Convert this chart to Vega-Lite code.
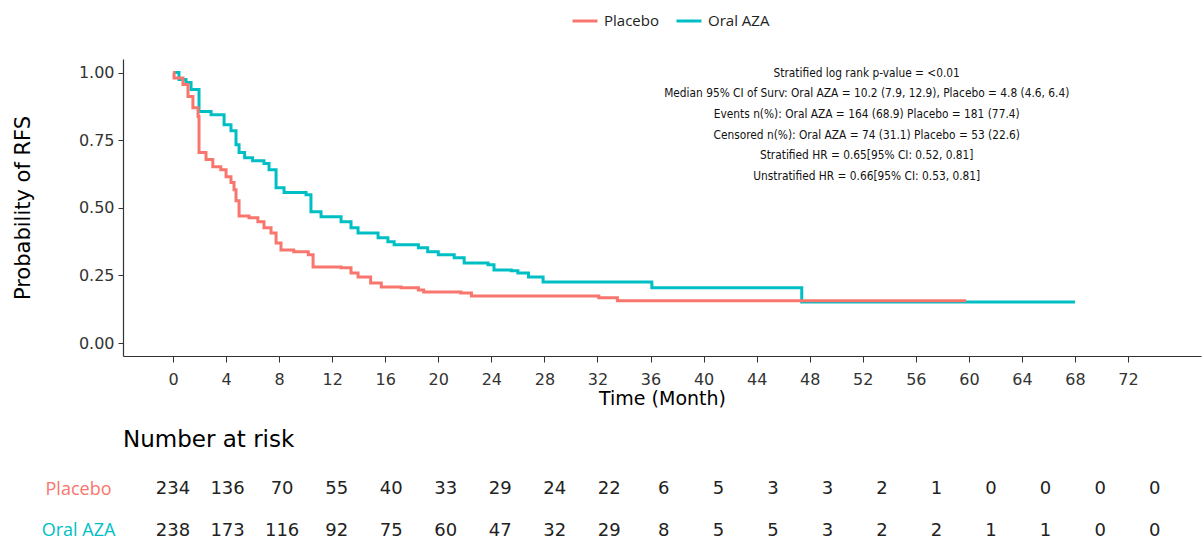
{
  "$schema": "https://vega.github.io/schema/vega-lite/v6.json",
  "padding": {"left": 12, "top": 7, "right": 3, "bottom": 0},
  "background": "white",
  "config": {"view": {"stroke": null}, "font": "DejaVu Sans", "axis": {"grid": false}},
  "datasets": {
    "km": [
      {"group": "Oral AZA", "time": 0, "surv": 1.0},
      {"group": "Oral AZA", "time": 0.45, "surv": 0.974},
      {"group": "Oral AZA", "time": 0.98, "surv": 0.963},
      {"group": "Oral AZA", "time": 1.36, "surv": 0.937},
      {"group": "Oral AZA", "time": 1.96, "surv": 0.856},
      {"group": "Oral AZA", "time": 2.87, "surv": 0.844},
      {"group": "Oral AZA", "time": 3.85, "surv": 0.807},
      {"group": "Oral AZA", "time": 4.37, "surv": 0.785},
      {"group": "Oral AZA", "time": 4.75, "surv": 0.733},
      {"group": "Oral AZA", "time": 4.98, "surv": 0.704},
      {"group": "Oral AZA", "time": 5.4, "surv": 0.685},
      {"group": "Oral AZA", "time": 6.0, "surv": 0.674},
      {"group": "Oral AZA", "time": 6.86, "surv": 0.664},
      {"group": "Oral AZA", "time": 7.24, "surv": 0.641},
      {"group": "Oral AZA", "time": 7.77, "surv": 0.574},
      {"group": "Oral AZA", "time": 8.37, "surv": 0.556},
      {"group": "Oral AZA", "time": 10.03, "surv": 0.548},
      {"group": "Oral AZA", "time": 10.4, "surv": 0.485},
      {"group": "Oral AZA", "time": 11.16, "surv": 0.467},
      {"group": "Oral AZA", "time": 12.67, "surv": 0.448},
      {"group": "Oral AZA", "time": 13.42, "surv": 0.426},
      {"group": "Oral AZA", "time": 13.95, "surv": 0.407},
      {"group": "Oral AZA", "time": 15.46, "surv": 0.389},
      {"group": "Oral AZA", "time": 16.2, "surv": 0.374},
      {"group": "Oral AZA", "time": 16.67, "surv": 0.363},
      {"group": "Oral AZA", "time": 18.5, "surv": 0.352},
      {"group": "Oral AZA", "time": 19.2, "surv": 0.337},
      {"group": "Oral AZA", "time": 20.0, "surv": 0.326},
      {"group": "Oral AZA", "time": 21.2, "surv": 0.315},
      {"group": "Oral AZA", "time": 21.95, "surv": 0.296},
      {"group": "Oral AZA", "time": 23.75, "surv": 0.289},
      {"group": "Oral AZA", "time": 24.2, "surv": 0.27},
      {"group": "Oral AZA", "time": 25.5, "surv": 0.267},
      {"group": "Oral AZA", "time": 26.0, "surv": 0.259},
      {"group": "Oral AZA", "time": 26.8, "surv": 0.244},
      {"group": "Oral AZA", "time": 27.9, "surv": 0.226},
      {"group": "Oral AZA", "time": 36.1, "surv": 0.204},
      {"group": "Oral AZA", "time": 47.4, "surv": 0.152},
      {"group": "Oral AZA", "time": 68.0, "surv": 0.152},
      {"group": "Placebo", "time": 0, "surv": 1.0},
      {"group": "Placebo", "time": 0.08, "surv": 0.98},
      {"group": "Placebo", "time": 0.75, "surv": 0.956},
      {"group": "Placebo", "time": 1.13, "surv": 0.911},
      {"group": "Placebo", "time": 1.5, "surv": 0.87},
      {"group": "Placebo", "time": 1.89, "surv": 0.837},
      {"group": "Placebo", "time": 1.96, "surv": 0.704},
      {"group": "Placebo", "time": 2.49, "surv": 0.678},
      {"group": "Placebo", "time": 3.0, "surv": 0.652},
      {"group": "Placebo", "time": 3.6, "surv": 0.641},
      {"group": "Placebo", "time": 4.0, "surv": 0.615},
      {"group": "Placebo", "time": 4.37, "surv": 0.593},
      {"group": "Placebo", "time": 4.6, "surv": 0.567},
      {"group": "Placebo", "time": 4.75, "surv": 0.526},
      {"group": "Placebo", "time": 4.98, "surv": 0.47},
      {"group": "Placebo", "time": 5.73, "surv": 0.463},
      {"group": "Placebo", "time": 6.4, "surv": 0.448},
      {"group": "Placebo", "time": 6.86, "surv": 0.426},
      {"group": "Placebo", "time": 7.39, "surv": 0.407},
      {"group": "Placebo", "time": 7.77, "surv": 0.37},
      {"group": "Placebo", "time": 8.14, "surv": 0.344},
      {"group": "Placebo", "time": 9.1, "surv": 0.337},
      {"group": "Placebo", "time": 10.2, "surv": 0.326},
      {"group": "Placebo", "time": 10.56, "surv": 0.281},
      {"group": "Placebo", "time": 12.67, "surv": 0.278},
      {"group": "Placebo", "time": 13.42, "surv": 0.259},
      {"group": "Placebo", "time": 13.95, "surv": 0.244},
      {"group": "Placebo", "time": 14.9, "surv": 0.222},
      {"group": "Placebo", "time": 15.7, "surv": 0.207},
      {"group": "Placebo", "time": 17.2, "surv": 0.204},
      {"group": "Placebo", "time": 18.5, "surv": 0.196},
      {"group": "Placebo", "time": 18.9, "surv": 0.189},
      {"group": "Placebo", "time": 21.7, "surv": 0.185},
      {"group": "Placebo", "time": 22.5, "surv": 0.174},
      {"group": "Placebo", "time": 32.1, "surv": 0.167},
      {"group": "Placebo", "time": 33.5, "surv": 0.156},
      {"group": "Placebo", "time": 59.8, "surv": 0.156}
    ],
    "risk": [
      {"group": "Placebo", "time": 0, "n": 234},
      {"group": "Placebo", "time": 4, "n": 136},
      {"group": "Placebo", "time": 8, "n": 70},
      {"group": "Placebo", "time": 12, "n": 55},
      {"group": "Placebo", "time": 16, "n": 40},
      {"group": "Placebo", "time": 20, "n": 33},
      {"group": "Placebo", "time": 24, "n": 29},
      {"group": "Placebo", "time": 28, "n": 24},
      {"group": "Placebo", "time": 32, "n": 22},
      {"group": "Placebo", "time": 36, "n": 6},
      {"group": "Placebo", "time": 40, "n": 5},
      {"group": "Placebo", "time": 44, "n": 3},
      {"group": "Placebo", "time": 48, "n": 3},
      {"group": "Placebo", "time": 52, "n": 2},
      {"group": "Placebo", "time": 56, "n": 1},
      {"group": "Placebo", "time": 60, "n": 0},
      {"group": "Placebo", "time": 64, "n": 0},
      {"group": "Placebo", "time": 68, "n": 0},
      {"group": "Placebo", "time": 72, "n": 0},
      {"group": "Oral AZA", "time": 0, "n": 238},
      {"group": "Oral AZA", "time": 4, "n": 173},
      {"group": "Oral AZA", "time": 8, "n": 116},
      {"group": "Oral AZA", "time": 12, "n": 92},
      {"group": "Oral AZA", "time": 16, "n": 75},
      {"group": "Oral AZA", "time": 20, "n": 60},
      {"group": "Oral AZA", "time": 24, "n": 47},
      {"group": "Oral AZA", "time": 28, "n": 32},
      {"group": "Oral AZA", "time": 32, "n": 29},
      {"group": "Oral AZA", "time": 36, "n": 8},
      {"group": "Oral AZA", "time": 40, "n": 5},
      {"group": "Oral AZA", "time": 44, "n": 5},
      {"group": "Oral AZA", "time": 48, "n": 3},
      {"group": "Oral AZA", "time": 52, "n": 2},
      {"group": "Oral AZA", "time": 56, "n": 2},
      {"group": "Oral AZA", "time": 60, "n": 1},
      {"group": "Oral AZA", "time": 64, "n": 1},
      {"group": "Oral AZA", "time": 68, "n": 0},
      {"group": "Oral AZA", "time": 72, "n": 0}
    ]
  },
  "vconcat": [
    {
      "width": 1078,
      "height": 297,
      "layer": [
        {
          "data": {"name": "km"},
          "mark": {"type": "line", "interpolate": "step-after", "strokeWidth": 3},
          "encoding": {
            "x": {
              "field": "time", "type": "quantitative",
              "scale": {"domain": [-3.77, 77.5], "nice": false, "zero": false},
              "axis": {
                "title": "Time (Month)",
                "values": [0, 4, 8, 12, 16, 20, 24, 28, 32, 36, 40, 44, 48, 52, 56, 60, 64, 68, 72],
                "format": "d",
                "labelFontSize": 16, "labelColor": "#333", "labelPadding": 9,
                "tickSize": 6, "tickColor": "#333",
                "domainColor": "#333", "domainWidth": 1.2,
                "titleFontSize": 19, "titleFontWeight": "normal", "titleColor": "#000", "titlePadding": 2
              }
            },
            "y": {
              "field": "surv", "type": "quantitative",
              "scale": {"domain": [-0.048, 1.05], "nice": false, "zero": false},
              "axis": {
                "title": "Probability of RFS",
                "values": [0, 0.25, 0.5, 0.75, 1],
                "format": ".2f",
                "labelFontSize": 16, "labelColor": "#333", "labelPadding": 4,
                "tickSize": 5, "tickColor": "#333",
                "domainColor": "#333", "domainWidth": 1.2,
                "titleFontSize": 21, "titleFontWeight": "normal", "titleColor": "#000", "titlePadding": 45
              }
            },
            "color": {
              "field": "group", "type": "nominal",
              "scale": {"domain": ["Placebo", "Oral AZA"], "range": ["#F8766D", "#00BFC4"]},
              "legend": {
                "title": null, "orient": "none", "direction": "horizontal",
                "legendX": 448, "legendY": -52,
                "symbolType": "stroke", "symbolSize": 625, "symbolStrokeWidth": 3,
                "labelFont": "Open Sans", "labelFontSize": 15, "labelColor": "#222",
                "labelOffset": 5, "columnPadding": 11
              }
            }
          }
        },
        {
          "data": {"values": [{}]},
          "mark": {
            "type": "text",
            "text": [
              "Stratified log rank p-value = <0.01",
              "Median 95% CI of Surv: Oral AZA = 10.2 (7.9, 12.9), Placebo = 4.8 (4.6, 6.4)",
              "Events n(%): Oral AZA = 164 (68.9) Placebo = 181 (77.4)",
              "Censored n(%): Oral AZA = 74 (31.1) Placebo = 53 (22.6)",
              "Stratified HR = 0.65[95% CI: 0.52, 0.81]",
              "Unstratified HR = 0.66[95% CI: 0.53, 0.81]"
            ],
            "align": "center", "baseline": "top",
            "fontSize": 11.8, "lineHeight": 20.7, "color": "#111", "font": "DejaVu Sans Condensed, DejaVu Sans"
          },
          "encoding": {
            "x": {"datum": 52.3, "type": "quantitative"},
            "y": {"datum": 1.018, "type": "quantitative"}
          }
        }
      ]
    },
    {
      "width": 1078,
      "height": 64,
      "data": {"name": "risk"},
      "title": {
        "text": "Number at risk", "anchor": "start", "frame": "group",
        "fontSize": 23, "fontWeight": "normal", "font": "DejaVu Sans", "color": "#000", "offset": 26
      },
      "mark": {"type": "text", "fontSize": 18, "font": "DejaVu Sans", "color": "#222", "baseline": "middle", "align": "center"},
      "encoding": {
        "x": {
          "field": "time", "type": "quantitative",
          "scale": {"domain": [-3.67, 75.4], "nice": false, "zero": false},
          "axis": null
        },
        "y": {
          "field": "group", "type": "nominal",
          "scale": {"type": "point", "domain": ["Placebo", "Oral AZA"], "padding": 0.262},
          "axis": {
            "title": null, "domain": false, "ticks": false,
            "labelAlign": "center", "labelPadding": 45,
            "labelFont": "Open Sans", "labelFontSize": 18,
            "labelColor": {"condition": {"test": "datum.value === 'Placebo'", "value": "#F8766D"}, "value": "#00BFC4"}
          }
        },
        "text": {"field": "n", "type": "quantitative"}
      }
    }
  ],
  "spacing": 21
}
